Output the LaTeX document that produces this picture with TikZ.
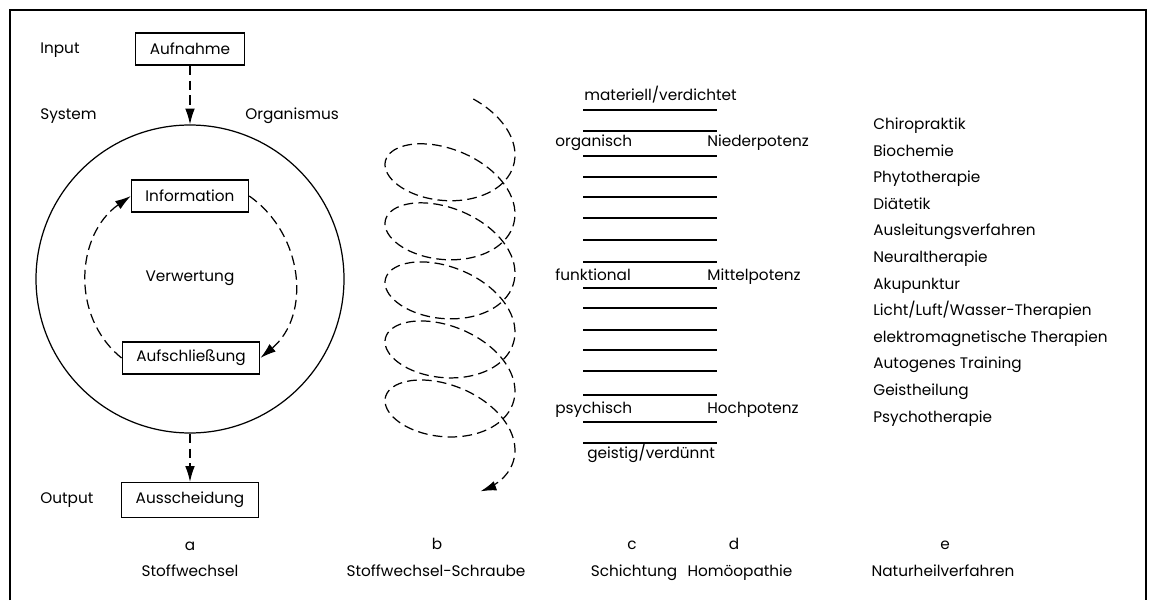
\documentclass[tikz,border=0pt]{standalone}
\usepackage{fontspec}
\setmainfont{Poppins}
\usepackage{tikz}
\usetikzlibrary{arrows.meta,positioning,calc}

\begin{document}
\fontsize{8.7}{10}\selectfont
\begin{tikzpicture}[>={Latex[length=9pt,width=5.5pt]},
    box/.style={draw,line width=0.7pt,minimum height=0.64cm,inner xsep=8pt},
    flow/.style={->,line width=0.7pt,dash pattern=on 5.5pt off 3pt},
    lbl/.style={anchor=west,inner sep=0pt,text height=6pt,text depth=2pt},
    ctr/.style={inner sep=0pt,text height=6pt,text depth=2pt}]
    \useasboundingbox (0,0) rectangle (23,12);
    % frame, open at the bottom
    \draw[line width=0.6pt] (0.2,0) -- (0.2,11.8) -- (22.92,11.8) -- (22.92,0);

    % a: Stoffwechsel
    \node[lbl] (input) at (0.8,11.0) {Input};
    \node[box] (aufnahme) at (3.8,11.02) {Aufnahme};
    \node[lbl] (system) at (0.8,9.68) {System};
    \node[lbl] (organismus) at (4.9,9.68) {Organismus};
    \node[draw,circle,line width=0.7pt,minimum size=6.16cm,inner sep=0pt] (org) at (3.8,6.42) {};
    \node[box] (info) at (3.8,8.08) {Information};
    \node[ctr] (verwertung) at (3.8,6.44) {Verwertung};
    \node[box] (aufs) at (3.82,4.84) {Aufschließung};
    \node[box,minimum height=0.7cm] (aussch) at (3.8,2.0) {Ausscheidung};
    \node[lbl] (output) at (0.8,2.0) {Output};
    \draw[flow] (aufnahme) -- (org.north);
    \draw[flow] (org.south) -- (aussch);
    \draw[flow] (info.east) to[out=-35,in=40,looseness=1.05] (aufs.east);
    \draw[flow] (aufs.west) to[out=141,in=215,looseness=1.05] (info.west);

    % b: Schraube
    \draw[->,line width=0.7pt,dash pattern=on 5.5pt off 3pt]
      plot[domain=-69:1862,samples=400,smooth]
      ({9+1.3*cos(\x)},{9.1-0.003278*\x-0.82*sin(\x)-0.2*cos(\x)});

    % c, d: Schichtung
    \foreach \y in {9.8,9.38,8.88,8.46,8.06,7.64,7.2,6.76,6.24,5.84,5.4,5.0,4.58,4.1,3.56,3.14}
      \draw[line width=0.7pt] (11.66,\y) -- (14.34,\y);
    \node[lbl] (materiell) at (11.68,10.06) {materiell/verdichtet};
    \node[lbl] (organisch) at (11.1,9.14) {organisch};
    \node[lbl] (nieder) at (14.14,9.14) {Niederpotenz};
    \node[lbl] (funktional) at (11.1,6.46) {funktional};
    \node[lbl] (mittel) at (14.14,6.46) {Mittelpotenz};
    \node[lbl] (psychisch) at (11.1,3.8) {psychisch};
    \node[lbl] (hoch) at (14.14,3.8) {Hochpotenz};
    \node[lbl] (geistig) at (11.74,2.9) {geistig/verdünnt};

    % e: Naturheilverfahren
    \foreach \t [count=\i from 0] in {Chiropraktik,Biochemie,Phytotherapie,Diätetik,
      Ausleitungsverfahren,Neuraltherapie,Akupunktur,Licht/Luft/Wasser-Therapien,
      elektromagnetische Therapien,Autogenes Training,Geistheilung,Psychotherapie}
      \node[lbl] (nh\i) at (17.46,9.48-0.532*\i) {\t};

    % captions
    \node[ctr] (la) at (3.8,1.06) {a};
    \node[ctr] (lb) at (8.74,1.08) {b};
    \node[ctr] (lc) at (12.64,1.08) {c};
    \node[ctr] (ld) at (14.68,1.08) {d};
    \node[ctr] (le) at (18.9,1.08) {e};
    \node[ctr] (ca) at (3.8,0.54) {Stoffwechsel};
    \node[ctr] (cb) at (8.72,0.54) {Stoffwechsel-Schraube};
    \node[ctr] (cc) at (12.68,0.54) {Schichtung};
    \node[ctr] (cd) at (14.8,0.54) {Homöopathie};
    \node[ctr] (ce) at (18.86,0.54) {Naturheilverfahren};
\end{tikzpicture}
\end{document}
